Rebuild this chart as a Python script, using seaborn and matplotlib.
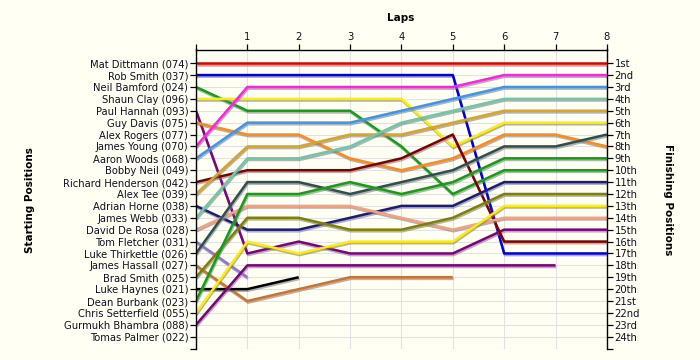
import numpy as np
import pandas as pd
import matplotlib
matplotlib.use("Agg")
import matplotlib.pyplot as plt
import matplotlib.patheffects as pe
import seaborn as sns

drivers = ["Mat Dittmann (074)", "Rob Smith (037)", "Neil Bamford (024)", "Shaun Clay (096)",
           "Paul Hannah (093)", "Guy Davis (075)", "Alex Rogers (077)", "James Young (070)",
           "Aaron Woods (068)", "Bobby Neil (049)", "Richard Henderson (042)", "Alex Tee (039)",
           "Adrian Horne (038)", "James Webb (033)", "David De Rosa (028)", "Tom Fletcher (031)",
           "Luke Thirkettle (026)", "James Hassall (027)", "Brad Smith (025)", "Luke Haynes (021)",
           "Dean Burbank (023)", "Chris Setterfield (055)", "Gurmukh Bhambra (088)", "Tomas Palmer (022)"]

# positions per lap (lap 0 = start); shorter lists = retired
mat = [1, 1, 1, 1, 1, 1, 1, 1, 1]
rob = [2, 2, 2, 2, 2, 2, 17, 17, 17]
neil = [3, 5, 5, 5, 8, 12, 10, 10, 10]
shaun = [4, 4, 4, 4, 4, 8, 6, 6, 6]
paul = [5, 17, 16, 17, 17, 17, 15, 15, 15]
guy = [6, 7, 7, 9, 10, 9, 7, 7, 8]
james_young = [8, 3, 3, 3, 3, 3, 2, 2, 2]
aaron = [9, 6, 6, 6, 5, 4, 3, 3, 3]
richard = [11, 10, 10, 10, 9, 7, 16, 16, 16]
alex_tee = [12, 8, 8, 7, 7, 6, 5, 5, 5]
adrian = [13, 15, 15, 14, 13, 13, 11, 11, 11]
james_webb = [14, 9, 9, 8, 6, 5, 4, 4, 4]
david = [15, 13, 13, 13, 14, 15, 14, 14, 14]
tom = [16, 19]
luke_t = [17, 11, 11, 12, 11, 10, 8, 8, 7]
james_hassall = [18, 21, 20, 19, 19, 19]
brad = [19, 14, 14, 15, 15, 14, 12, 12, 12]
luke_h = [20, 20, 19]
dean = [21, 12, 12, 11, 12, 11, 9, 9, 9]
chris = [22, 16, 17, 16, 16, 16, 13, 13, 13]
gurmukh = [23, 18, 18, 18, 18, 18, 18, 18]

series = {
    "Mat Dittmann (074)": (mat, "#DC0000"),
    "Rob Smith (037)": (rob, "#0000DC"),
    "Neil Bamford (024)": (neil, "#12A012"),
    "Shaun Clay (096)": (shaun, "#FFEE00"),
    "Paul Hannah (093)": (paul, "#800080"),
    "Guy Davis (075)": (guy, "#FF8A18"),
    "James Young (070)": (james_young, "#FF22E6"),
    "Aaron Woods (068)": (aaron, "#3A96F0"),
    "Richard Henderson (042)": (richard, "#800000"),
    "Alex Tee (039)": (alex_tee, "#DAA520"),
    "Adrian Horne (038)": (adrian, "#1C1C78"),
    "James Webb (033)": (james_webb, "#6CC8A8"),
    "David De Rosa (028)": (david, "#F6A080"),
    "Tom Fletcher (031)": (tom, "#9370DB"),
    "Luke Thirkettle (026)": (luke_t, "#2F4F4F"),
    "James Hassall (027)": (james_hassall, "#D2712C"),
    "Brad Smith (025)": (brad, "#808000"),
    "Luke Haynes (021)": (luke_h, "#000000"),
    "Dean Burbank (023)": (dean, "#12A012"),
    "Chris Setterfield (055)": (chris, "#FFEE00"),
    "Gurmukh Bhambra (088)": (gurmukh, "#800080"),
}

finish_labels = ["1st", "2nd", "3rd"] + [f"{i}th" for i in range(4, 21)] + ["21st", "22nd", "23rd", "24th"]
laps = list(range(0, 9))

rows = []
for name, (pos, col) in series.items():
    for lap, p in enumerate(pos):
        rows.append({"driver": name, "lap": lap, "pos": p})
df = pd.DataFrame(rows)
palette = {k: v[1] for k, v in series.items()}

bg = "#FFFFF4"
fig = plt.figure(figsize=(7, 3.6), dpi=100, facecolor=bg)
ax = fig.add_axes([0.28, 0.0317, 0.587, 0.8308])
ax.set_facecolor(bg)

sns.lineplot(data=df, x="lap", y="pos", hue="driver", palette=palette, units="driver",
             estimator=None, sort=False, legend=False, linewidth=1.8, ax=ax)
for ln in ax.lines:
    ln.set_path_effects([pe.SimpleLineShadow(offset=(0.5, -1.2), shadow_color="#808080", alpha=0.6),
                         pe.Normal()])
    ln.set_solid_capstyle("butt")

ax.set_xlim(0, 8)
ax.set_ylim(25, -0.15)
ax.xaxis.tick_top()
ax.set_xticks(laps)
ax.set_xticklabels([""] + [str(l) for l in laps[1:]])
yt = list(range(1, 26))
ax.set_yticks(yt)
ax.set_yticklabels(drivers + [""])
ax.grid(True, color="#E2E2E2", linewidth=0.8)
ax.set_axisbelow(True)
for s in ["bottom", "right"]:
    ax.spines[s].set_visible(False)
for s in ["top", "left"]:
    ax.spines[s].set_color("black")
    ax.spines[s].set_linewidth(1.0)
ax.tick_params(axis="both", length=4, width=0.9, labelsize=7.2, colors="black",
               labelcolor="#101020", pad=1.5)
ax.set_xlabel("")
ax.set_ylabel("")

ax2 = ax.twinx()
ax2.set_ylim(ax.get_ylim())
ax2.set_yticks(yt)
ax2.set_yticklabels(finish_labels + [""])
for s in ["top", "bottom", "left"]:
    ax2.spines[s].set_visible(False)
ax2.spines["right"].set_linewidth(1.0)
ax2.tick_params(axis="y", length=4, width=0.9, labelsize=7.2, labelcolor="#101020", pad=1.5)

fig.text(0.573, 0.95, "Laps", ha="center", va="center", fontsize=7.5, fontweight="bold")
fig.text(0.043, 0.445, "Starting Positions", ha="center", va="center", rotation=90,
         fontsize=7.5, fontweight="bold")
fig.text(0.954, 0.445, "Finishing Positions", ha="center", va="center", rotation=270,
         fontsize=7.5, fontweight="bold")

fig.savefig("out.png", dpi=100, facecolor=bg)
